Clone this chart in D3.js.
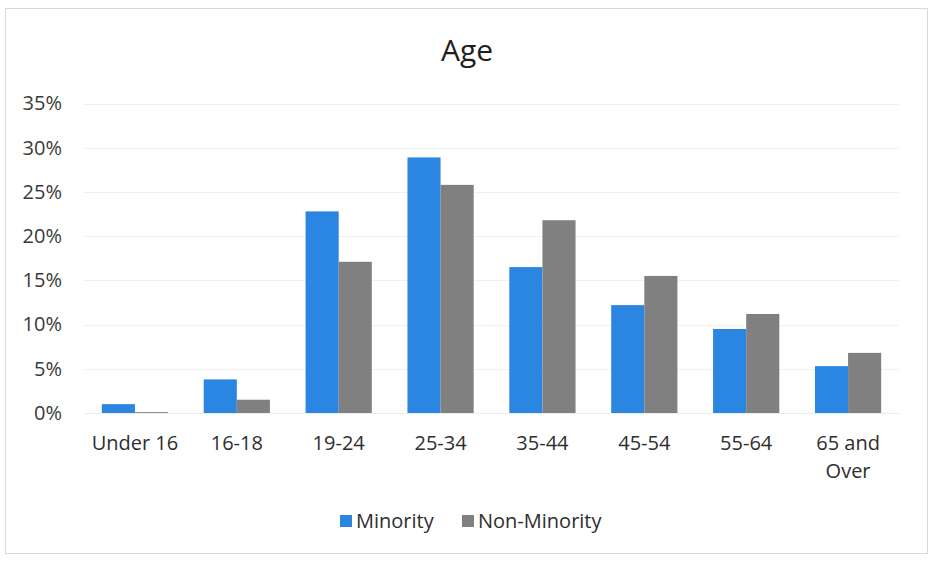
<!DOCTYPE html>
<html>
<head>
<meta charset="utf-8">
<script src="https://cdn.jsdelivr.net/npm/d3@7"></script>
<style>
  html, body { margin: 0; padding: 0; background: #fff; }
  svg text { font-family: "Open Sans", "Noto Sans", sans-serif; }
</style>
</head>
<body>
<svg id="chart" width="931" height="561"></svg>
<script>
// Age distribution, share of each group (percent)
const categories = ["Under 16", "16-18", "19-24", "25-34", "35-44", "45-54", "55-64", "65 and Over"];
const minority    = [1.0, 3.8, 22.8, 28.9, 16.5, 12.2, 9.5, 5.3];
const nonMinority = [0.1, 1.5, 17.1, 25.8, 21.8, 15.5, 11.2, 6.8];
const seriesNames = ["Minority", "Non-Minority"];
const yTicks = [0, 5, 10, 15, 20, 25, 30, 35];

const colors = { "Minority": "#2a86e0", "Non-Minority": "#808080" };

const svg = d3.select("#chart");
const plot = { left: 84, right: 899, top: 103.5, bottom: 413 };

// chart frame
svg.append("rect")
  .attr("x", 5.5).attr("y", 8.5)
  .attr("width", 922).attr("height", 545)
  .attr("fill", "#fff").attr("stroke", "#d9d9d9").attr("stroke-width", 1);

// title
svg.append("text")
  .attr("x", 467).attr("y", 61)
  .attr("text-anchor", "middle")
  .attr("font-size", 30)
  .attr("fill", "#1e1e1e")
  .text("Age");

const y = d3.scaleLinear().domain([0, 35]).range([plot.bottom, plot.top]);
const x = d3.scaleBand().domain(categories)
  .range([plot.left, plot.right])
  .paddingInner(0.35).paddingOuter(0.175);
const xs = d3.scaleBand().domain(seriesNames).range([0, x.bandwidth()]);

// gridlines
svg.append("g")
  .selectAll("line")
  .data(yTicks.filter(t => t > 0))
  .join("line")
  .attr("x1", plot.left).attr("x2", plot.right)
  .attr("y1", d => Math.round(y(d)) + 0.5).attr("y2", d => Math.round(y(d)) + 0.5)
  .attr("stroke", "#f1f1f1").attr("stroke-width", 1);

// y axis labels
const yAxis = d3.axisLeft(y).tickValues(yTicks).tickFormat(d => d + "%").tickSize(0).tickPadding(0);
const gy = svg.append("g").attr("transform", `translate(62,0)`).call(yAxis);
gy.select(".domain").remove();
gy.selectAll("text")
  .attr("font-size", 20)
  .attr("fill", "#3a3a3a")
  .attr("font-family", "'Open Sans', sans-serif");

// bars
const rows = categories.map((c, i) => ({ cat: c, values: [
  { key: "Minority", v: minority[i] },
  { key: "Non-Minority", v: nonMinority[i] }
]}));

svg.append("g")
  .selectAll("g")
  .data(rows)
  .join("g")
  .attr("transform", d => `translate(${x(d.cat)},0)`)
  .selectAll("rect")
  .data(d => d.values)
  .join("rect")
  .attr("x", d => xs(d.key))
  .attr("width", xs.bandwidth())
  .attr("y", d => y(d.v))
  .attr("height", d => y(0) - y(d.v))
  .attr("fill", d => colors[d.key]);

// baseline
svg.append("line")
  .attr("x1", plot.left).attr("x2", plot.right)
  .attr("y1", plot.bottom + 0.5).attr("y2", plot.bottom + 0.5)
  .attr("stroke", "#ececec");

// x axis labels (wrapped onto two lines when long)
const xAxis = d3.axisBottom(x).tickSize(0).tickPadding(0).tickFormat("");
const gx = svg.append("g").attr("transform", `translate(0,${plot.bottom})`).call(xAxis);
gx.select(".domain").remove();
gx.selectAll(".tick").each(function(d) {
  const t = d3.select(this).append("text")
    .attr("text-anchor", "middle")
    .attr("font-size", 20)
    .attr("fill", "#2e2e2e")
    .attr("y", 37);
  const lines = d === "65 and Over" ? ["65 and", "Over"] : [d];
  lines.forEach((ln, i) => {
    t.append("tspan").attr("x", 0).attr("dy", i === 0 ? 0 : 28).text(ln);
  });
});

// legend
const legendItems = [
  { key: "Minority", sx: 340, tx: 356 },
  { key: "Non-Minority", sx: 462, tx: 478 }
];
const lg = svg.append("g");
lg.selectAll("rect")
  .data(legendItems)
  .join("rect")
  .attr("x", d => d.sx).attr("y", 515)
  .attr("width", 12).attr("height", 12)
  .attr("fill", d => colors[d.key]);
lg.selectAll("text")
  .data(legendItems)
  .join("text")
  .attr("x", d => d.tx).attr("y", 528)
  .attr("font-size", 20)
  .attr("fill", "#2e2e2e")
  .text(d => d.key);
</script>
</body>
</html>
